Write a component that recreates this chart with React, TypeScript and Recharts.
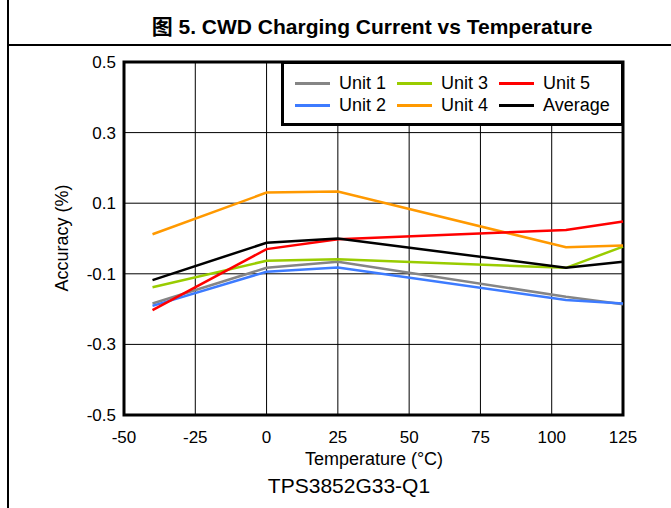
import React from "react";
import { LineChart, Line, XAxis, YAxis, CartesianGrid, ReferenceArea } from "recharts";

const temps = [-40, 0, 25, 105, 125];
const unit1 = [-0.184, -0.083, -0.066, -0.165, -0.186];
const unit2 = [-0.191, -0.094, -0.082, -0.174, -0.184];
const unit3 = [-0.138, -0.063, -0.059, -0.083, -0.023];
const unit4 = [0.012, 0.13, 0.133, -0.025, -0.02];
const unit5 = [-0.203, -0.03, -0.002, 0.024, 0.048];
const average = [-0.118, -0.012, 0.0, -0.083, -0.066];

const xTicks = [-50, -25, 0, 25, 50, 75, 100, 125];
const yTicks = [-0.5, -0.3, -0.1, 0.1, 0.3, 0.5];

const seriesNames = ["Unit 1", "Unit 2", "Unit 3", "Unit 4", "Unit 5", "Average"];
const seriesColors = ["#858585", "#3d7bff", "#99cc00", "#ff9900", "#ff0000", "#000000"];
const seriesValues = [unit1, unit2, unit3, unit4, unit5, average];
// legend reads column by column: (Unit 1, Unit 2), (Unit 3, Unit 4), (Unit 5, Average)

const data = temps.map((t, i) => {
  const row: Record<string, number> = { t };
  seriesNames.forEach((name, s) => {
    row[name] = seriesValues[s][i];
  });
  return row;
});

const FONT = "'Liberation Sans', Arial, 'Noto Sans CJK SC', sans-serif";

function LegendBox() {
  const cols = [0, 1, 2];
  return (
    <div
      style={{
        position: "absolute",
        left: 281,
        top: 61,
        width: 343,
        height: 65,
        boxSizing: "border-box",
        border: "3px solid #000",
        background: "#fff",
        fontFamily: FONT,
        fontSize: 18,
        color: "#000",
      }}
    >
      {cols.map((c) =>
        [0, 1].map((r) => {
          const idx = c * 2 + r;
          return (
            <div
              key={idx}
              style={{
                position: "absolute",
                left: 11 + c * 102,
                top: 9 + r * 22,
                height: 20,
                display: "flex",
                alignItems: "center",
                whiteSpace: "nowrap",
              }}
            >
              <span style={{ display: "inline-block", width: 35, height: 3, background: seriesColors[idx], marginRight: 9 }} />
              <span style={{ lineHeight: "20px" }}>{seriesNames[idx]}</span>
            </div>
          );
        })
      )}
    </div>
  );
}

export default function App() {
  return (
    <div style={{ position: "fixed", left: 0, top: 0, width: 671, height: 508, overflow: "hidden", background: "#fff", fontFamily: FONT }}>
      {/* frame lines */}
      <div style={{ position: "absolute", left: 7, top: 0, width: 2, height: 508, background: "#000" }} />
      <div style={{ position: "absolute", left: 7, top: 44, width: 664, height: 2, background: "#000" }} />

      <div
        style={{
          position: "absolute",
          left: 372,
          top: 16,
          transform: "translateX(-50%)",
          whiteSpace: "nowrap",
          fontSize: 21,
          lineHeight: "22px",
          fontWeight: "bold",
          color: "#000",
        }}
      >
        图 5. CWD Charging Current vs Temperature
      </div>

      <div style={{ position: "absolute", left: 0, top: 0 }}>
        <LineChart width={671} height={508} data={data} margin={{ top: 62, right: 48, bottom: 63, left: 64 }}>
          <CartesianGrid stroke="#000" strokeWidth={1} horizontalValues={yTicks} verticalValues={xTicks} />
          <XAxis
            dataKey="t"
            type="number"
            domain={[-50, 125]}
            ticks={xTicks}
            interval={0}
            height={30}
            axisLine={false}
            tickLine={false}
            tickSize={0}
            tickMargin={16}
            tick={{ fontSize: 17, fill: "#000", fontFamily: FONT }}
          />
          <YAxis
            type="number"
            domain={[-0.5, 0.5]}
            ticks={yTicks}
            interval={0}
            width={60}
            axisLine={false}
            tickLine={false}
            tickSize={0}
            tickMargin={8}
            tick={{ fontSize: 17, fill: "#000", fontFamily: FONT }}
            tickFormatter={(v: number) => String(Math.round(v * 10) / 10)}
          />
          {seriesNames.map((name, s) => (
            <Line
              key={name}
              dataKey={name}
              type="linear"
              stroke={seriesColors[s]}
              strokeWidth={2.5}
              dot={false}
              isAnimationActive={false}
            />
          ))}
          <ReferenceArea x1={-50} x2={125} y1={-0.5} y2={0.5} fill="none" stroke="#000" strokeWidth={3} ifOverflow="visible" />
        </LineChart>
      </div>

      <LegendBox />

      <div
        style={{
          position: "absolute",
          left: 62,
          top: 238,
          transform: "translate(-50%, -50%) rotate(-90deg)",
          whiteSpace: "nowrap",
          fontSize: 18,
          lineHeight: "20px",
          color: "#000",
        }}
      >
        Accuracy (%)
      </div>
      <div
        style={{
          position: "absolute",
          left: 374,
          top: 459,
          transform: "translate(-50%, -50%)",
          whiteSpace: "nowrap",
          fontSize: 18,
          lineHeight: "20px",
          color: "#000",
        }}
      >
        Temperature (°C)
      </div>
      <div
        style={{
          position: "absolute",
          left: 349,
          top: 486,
          transform: "translate(-50%, -50%)",
          whiteSpace: "nowrap",
          fontSize: 21,
          lineHeight: "22px",
          color: "#000",
        }}
      >
        TPS3852G33-Q1
      </div>
    </div>
  );
}
